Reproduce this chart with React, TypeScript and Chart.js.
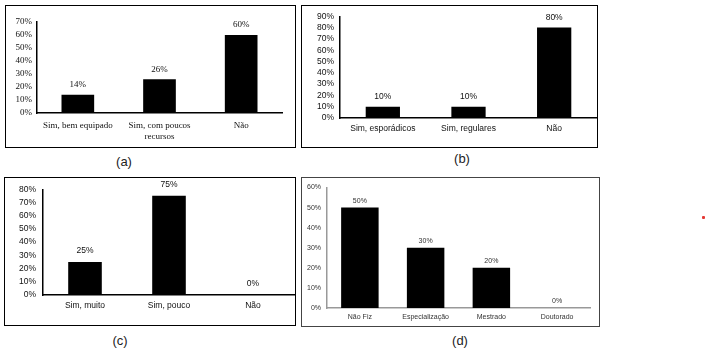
import React, { useEffect, useRef } from "react";
import { Chart, registerables } from "chart.js";

Chart.register(...registerables);

// Panel (a)
const catsA: (string | string[])[] = ["Sim, bem equipado", ["Sim, com poucos", "recursos"], "Não"];
const valsA = [14, 26, 60];
const maxA = 70;
// Panel (b)
const catsB = ["Sim, esporádicos", "Sim, regulares", "Não"];
const valsB = [10, 10, 80];
const maxB = 90;
// Panel (c)
const catsC = ["Sim, muito", "Sim, pouco", "Não"];
const valsC = [25, 75, 0];
const maxC = 80;
// Panel (d)
const catsD = ["Não Fiz", "Especialização", "Mestrado", "Doutorado"];
const valsD = [50, 30, 20, 0];
const maxD = 60;
const tickStep = 10;

type PanelCfg = {
  box: { x: number; y: number; w: number; h: number };
  borderColor: string;
  labels: (string | string[])[];
  values: number[];
  max: number;
  plot: { left: number; top: number; bottom: number; right: number };
  font: string;
  fontSize: number;
  textColor: string;
  axisColor: string;
  axisWidth: number;
  barPct: number;
  yPad: number;
  xPad: number;
  valOffset: number;
  valFontSize: number;
};

const valueLabelPlugin = {
  id: "valueLabels",
  afterDatasetsDraw(chart: any, _args: any, opts: any) {
    const ctx = chart.ctx;
    const meta = chart.getDatasetMeta(0);
    const data = chart.data.datasets[0].data;
    ctx.save();
    ctx.font = `${opts.size}px ${opts.family}`;
    ctx.fillStyle = opts.color;
    ctx.textAlign = "center";
    ctx.textBaseline = "middle";
    meta.data.forEach((el: any, i: number) => {
      ctx.fillText(`${data[i]}%`, el.x, el.y - opts.offset);
    });
    ctx.restore();
  },
};

function Panel({ cfg }: { cfg: PanelCfg }) {
  const ref = useRef<HTMLCanvasElement | null>(null);
  const cw = cfg.box.w - 2;
  const ch = cfg.box.h - 2;
  useEffect(() => {
    if (!ref.current) return;
    const chart = new Chart(ref.current, {
      type: "bar",
      data: {
        labels: cfg.labels as any,
        datasets: [
          {
            data: cfg.values,
            backgroundColor: "#000000",
            borderWidth: 0,
            barPercentage: cfg.barPct,
            categoryPercentage: 1,
          },
        ],
      },
      plugins: [valueLabelPlugin],
      options: {
        responsive: false,
        animation: false,
        devicePixelRatio: 1,
        layout: {
          padding: { left: 0, bottom: 0, top: cfg.plot.top, right: cw - cfg.plot.right },
        },
        plugins: {
          legend: { display: false },
          tooltip: { enabled: false },
          valueLabels: {
            size: cfg.valFontSize,
            family: cfg.font,
            color: cfg.textColor,
            offset: cfg.valOffset,
          },
        } as any,
        scales: {
          x: {
            grid: { display: false, drawTicks: false },
            border: { display: true, color: cfg.axisColor, width: cfg.axisWidth },
            ticks: {
              color: cfg.textColor,
              font: { family: cfg.font, size: cfg.fontSize },
              padding: cfg.xPad,
              maxRotation: 0,
              minRotation: 0,
              autoSkip: false,
            },
            afterFit: (s: any) => {
              s.height = ch - cfg.plot.bottom;
            },
          },
          y: {
            min: 0,
            max: cfg.max,
            grid: { display: false, drawTicks: false },
            border: { display: true, color: cfg.axisColor, width: cfg.axisWidth },
            ticks: {
              stepSize: tickStep,
              autoSkip: false,
              color: cfg.textColor,
              font: { family: cfg.font, size: cfg.fontSize, lineHeight: 1 },
              padding: cfg.yPad,
              callback: (v: any) => `${v}%`,
            },
            afterFit: (s: any) => {
              s.width = cfg.plot.left;
            },
          },
        },
      },
    });
    return () => chart.destroy();
  }, []);
  return (
    <div
      style={{
        position: "absolute",
        left: cfg.box.x,
        top: cfg.box.y,
        width: cfg.box.w,
        height: cfg.box.h,
        border: `1px solid ${cfg.borderColor}`,
        boxSizing: "border-box",
        background: "#fff",
      }}
    >
      <canvas ref={ref} width={cw} height={ch} style={{ display: "block", width: cw, height: ch }} />
    </div>
  );
}

const serif = "'Liberation Serif', 'Times New Roman', serif";
const sans = "'Liberation Sans', Arial, sans-serif";

const panels: PanelCfg[] = [
  {
    box: { x: 5, y: 5, w: 291, h: 143 },
    borderColor: "#000",
    labels: catsA,
    values: valsA,
    max: maxA,
    plot: { left: 31, top: 16, bottom: 107, right: 276 },
    font: serif,
    fontSize: 9,
    textColor: "#111",
    axisColor: "#000",
    axisWidth: 1.5,
    barPct: 0.4,
    yPad: 5,
    xPad: 7,
    valOffset: 10,
    valFontSize: 9,
  },
  {
    box: { x: 301, y: 5, w: 297, h: 143 },
    borderColor: "#000",
    labels: catsB,
    values: valsB,
    max: maxB,
    plot: { left: 38, top: 7, bottom: 112, right: 295 },
    font: sans,
    fontSize: 8.5,
    textColor: "#111",
    axisColor: "#000",
    axisWidth: 1.5,
    barPct: 0.4,
    yPad: 6,
    xPad: 6,
    valOffset: 10,
    valFontSize: 8.5,
  },
  {
    box: { x: 4, y: 177, w: 292, h: 149 },
    borderColor: "#000",
    labels: catsC,
    values: valsC,
    max: maxC,
    plot: { left: 38, top: 7, bottom: 117, right: 290 },
    font: sans,
    fontSize: 8.5,
    textColor: "#111",
    axisColor: "#000",
    axisWidth: 1.5,
    barPct: 0.4,
    yPad: 7,
    xPad: 6,
    valOffset: 11,
    valFontSize: 8.5,
  },
  {
    box: { x: 301, y: 177, w: 299, h: 150 },
    borderColor: "#444",
    labels: catsD,
    values: valsD,
    max: maxD,
    plot: { left: 25, top: 7, bottom: 130, right: 288 },
    font: sans,
    fontSize: 7,
    textColor: "#333",
    axisColor: "#999",
    axisWidth: 1.5,
    barPct: 0.57,
    yPad: 6,
    xPad: 5,
    valOffset: 7,
    valFontSize: 7,
  },
];

const captions = [
  { t: "(a)", x: 124, y: 162 },
  { t: "(b)", x: 462, y: 159 },
  { t: "(c)", x: 120, y: 341 },
  { t: "(d)", x: 460, y: 341 },
];

export default function App() {
  return (
    <div style={{ position: "fixed", left: 0, top: 0, width: 706, height: 356, background: "#fff" }}>
      {panels.map((p, i) => (
        <Panel key={i} cfg={p} />
      ))}
      {captions.map((c) => (
        <div
          key={c.t}
          style={{
            position: "absolute",
            left: c.x - 20,
            top: c.y - 9,
            width: 40,
            height: 18,
            lineHeight: "18px",
            textAlign: "center",
            fontFamily: sans,
            fontSize: 13,
            color: "#222",
          }}
        >
          {c.t}
        </div>
      ))}
      <div
        style={{ position: "absolute", left: 702, top: 216, width: 3, height: 3, background: "#e53935", borderRadius: 1 }}
      />
    </div>
  );
}
